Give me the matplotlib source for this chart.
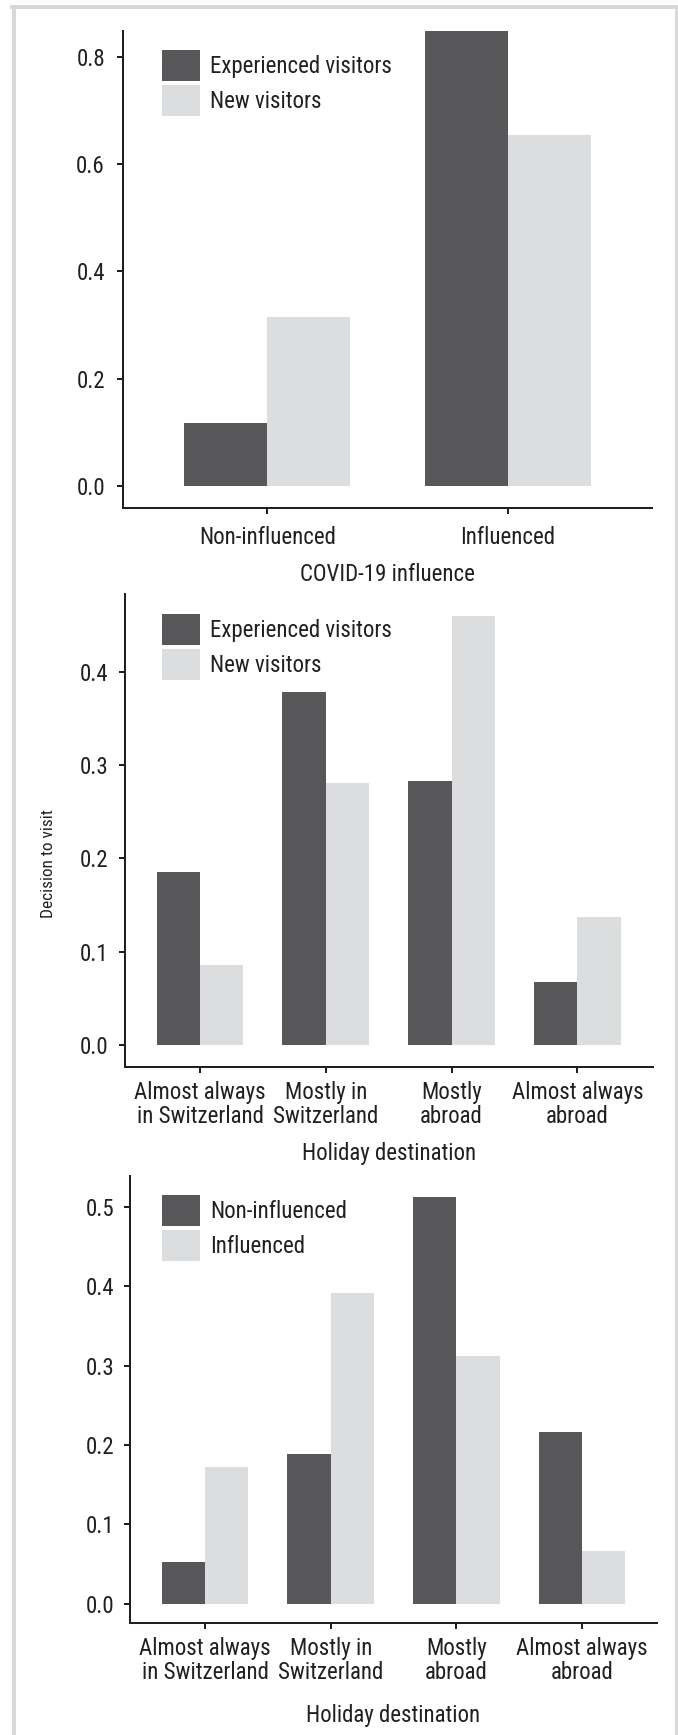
"""
Three grouped bar charts: decision to visit by COVID-19 influence and holiday destination.
"""

import matplotlib
matplotlib.use("Agg")
import matplotlib.pyplot as plt
from matplotlib import font_manager as fm
from matplotlib.textpath import TextPath
from matplotlib.lines import Line2D

# --- Data ---
covid_groups = ["Non-influenced", "Influenced"]
exp_by_covid = [0.118, 0.847]
new_by_covid = [0.315, 0.654]

dest_labels = ["Almost always\nin Switzerland", "Mostly in\nSwitzerland", "Mostly\nabroad", "Almost always\nabroad"]
exp_by_dest = [0.185, 0.378, 0.283, 0.067]
new_by_dest = [0.086, 0.281, 0.460, 0.137]
noninf_by_dest = [0.052, 0.189, 0.513, 0.216]
inf_by_dest = [0.172, 0.391, 0.312, 0.066]

DARK = "#58585a"
LIGHT = "#dcdddf"
INK = "#231f20"
FRAME = "#d9d9d9"

W, H = 678, 1735

# the original uses a condensed face; take the narrowest one that is installed
FAMILY, STRETCH = "DejaVu Sans", "normal"
narrow = {"condensed", "semi-condensed", "extra-condensed", "ultra-condensed"}
for name, want in [("Roboto Condensed", None), ("Liberation Sans Narrow", None),
                   ("Open Sans Condensed", None), ("Noto Sans", "condensed"),
                   ("DejaVu Sans", "condensed"), ("Open Sans", "condensed"),
                   ("Roboto", "condensed")]:
    hits = [f for f in fm.fontManager.ttflist if f.name == name
            and (want is None or str(f.stretch) in narrow)]
    if hits:
        FAMILY, STRETCH = name, (want or "normal")
        break

plt.rcParams["font.family"] = [FAMILY, "DejaVu Sans"]
plt.rcParams["font.stretch"] = STRETCH
plt.rcParams["text.color"] = INK
plt.rcParams["axes.labelcolor"] = INK
plt.rcParams["xtick.color"] = INK
plt.rcParams["ytick.color"] = INK


def size_for(text, px):
    # font size (pt) at which text is about px pixels wide
    prop = fm.FontProperties(family=FAMILY, stretch=STRETCH, size=10)
    w10 = TextPath((0, 0), text, prop=prop).get_extents().width * 100 / 72
    return 10 * px / w10


FS = min(16.5, size_for("Non-influenced", 134))
FS_SMALL = min(13.5, size_for("Decision to visit", 107))
FS_PX = FS * 100 / 72

# legend boxes are 38 x 31 px, 35 px apart
H_EM = 31 / FS_PX
HANDLE_H = (H_EM - 0.245) / 0.65

fig = plt.figure(figsize=(W / 100, H / 100), dpi=100)


def add_axes_px(left, top, right, bottom):
    return fig.add_axes([left / W, 1 - bottom / H, (right - left) / W, (bottom - top) / H])


def grouped_bars(ax, cats, dark_vals, light_vals, names, ylim, yticks, xpad, ypad, legend_xy):
    x = list(range(len(cats)))
    w = 0.345
    ax.bar([i - w / 2 for i in x], dark_vals, width=w, color=DARK, label=names[0])
    ax.bar([i + w / 2 for i in x], light_vals, width=w, color=LIGHT, label=names[1])
    ax.set_xlim(-0.6, len(cats) - 0.4)
    ax.set_ylim(*ylim)
    ax.set_yticks(yticks)
    ax.set_yticklabels([f"{t:.1f}" for t in yticks])
    ax.set_xticks(x)
    ax.set_xticklabels(cats, linespacing=1.1)
    for s in ["top", "right"]:
        ax.spines[s].set_visible(False)
    for s in ["left", "bottom"]:
        ax.spines[s].set_linewidth(1.45)
        ax.spines[s].set_color(INK)
    ax.tick_params(axis="both", direction="out", length=4.5, width=1.45, labelsize=FS)
    ax.tick_params(axis="x", pad=xpad)
    ax.tick_params(axis="y", pad=ypad)
    ax.legend(loc="upper left", bbox_to_anchor=legend_xy, frameon=False, fontsize=FS,
              handlelength=38 / FS_PX, handleheight=HANDLE_H,
              handletextpad=0.45, labelspacing=4 / FS_PX, borderpad=0, borderaxespad=0)


# --- COVID-19 influence ---
ax1 = add_axes_px(123, 31, 652, 508.3)
grouped_bars(ax1, covid_groups, exp_by_covid, new_by_covid,
             ["Experienced visitors", "New visitors"],
             (-0.0416, 0.8479), [0.0, 0.2, 0.4, 0.6, 0.8], 8.5, 8.5,
             ((162 - 123) / 529, (508.3 - 50) / 477.3))
ax1.set_xlabel("COVID-19 influence", fontsize=FS)
ax1.xaxis.set_label_coords(0.5, -0.1146)

# --- Holiday destination, experienced vs new ---
ax2 = add_axes_px(124.5, 594.5, 652.8, 1066.5)
grouped_bars(ax2, dest_labels, exp_by_dest, new_by_dest,
             ["Experienced visitors", "New visitors"],
             (-0.023, 0.4827), [0.0, 0.1, 0.2, 0.3, 0.4], 5.7, 6.8,
             ((162 - 124.5) / 528.3, (1066.5 - 614) / 472))
ax2.set_xlabel("Holiday destination", fontsize=FS)
ax2.xaxis.set_label_coords(0.5, -0.1597)
ax2.set_ylabel("Decision to visit", fontsize=FS_SMALL, va="center")
ax2.yaxis.set_label_coords(-0.1439, 0.43)

# --- Holiday destination, non-influenced vs influenced ---
ax3 = add_axes_px(129.7, 1176.5, 657.3, 1622.7)
grouped_bars(ax3, dest_labels, noninf_by_dest, inf_by_dest,
             ["Non-influenced", "Influenced"],
             (-0.0239, 0.5383), [0.0, 0.1, 0.2, 0.3, 0.4, 0.5], 5.5, 6.5,
             ((162 - 129.7) / 527.6, (1622.7 - 1194.8) / 446.2))
ax3.set_xlabel("Holiday destination", fontsize=FS)
ax3.xaxis.set_label_coords(0.5, -0.183)

# light grey frame, open at the bottom
lw = 4 * 0.72
fig.add_artist(Line2D([14 / W, 14 / W], [0, 1 - 7.5 / H], color=FRAME, lw=lw, transform=fig.transFigure))
fig.add_artist(Line2D([12 / W, 678 / W], [1 - 7.5 / H, 1 - 7.5 / H], color=FRAME, lw=lw, transform=fig.transFigure))
fig.add_artist(Line2D([676.5 / W, 676.5 / W], [0, 1 - 7.5 / H], color=FRAME, lw=lw, transform=fig.transFigure))

fig.savefig("out.png", dpi=100)
